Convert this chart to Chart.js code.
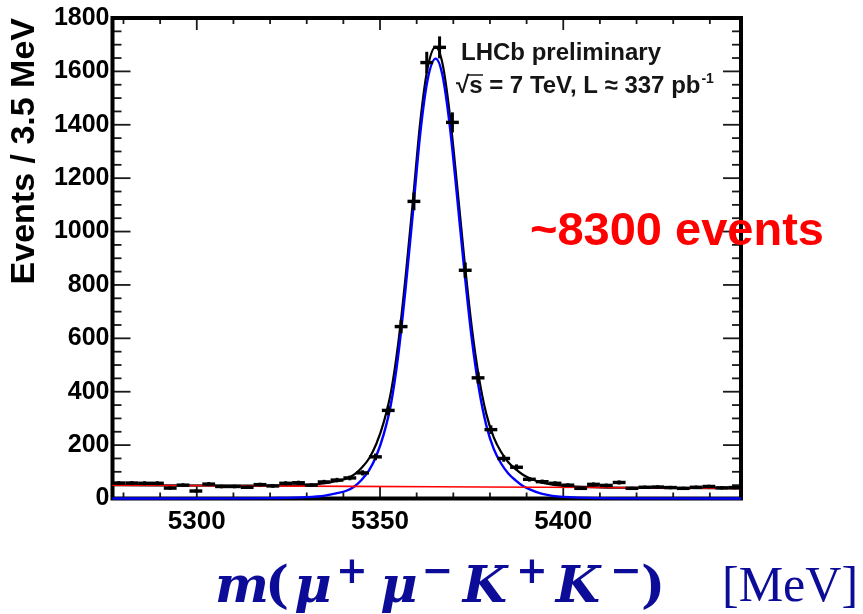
<!DOCTYPE html>
<html>
<head>
<meta charset="utf-8">
<title>m(μ+μ−K+K−) mass spectrum</title>
<script src="https://cdn.jsdelivr.net/npm/chart.js@4.4.1/dist/chart.umd.min.js"></script>
<style>
  html, body { margin: 0; padding: 0; background: #ffffff; }
  #box { position: relative; width: 863px; height: 614px; }
</style>
</head>
<body>
<div id="box"><canvas id="massPlot" width="863" height="614"></canvas></div>
<script>
// Mass window and binning (MeV)
const massRange = [5277, 5448.5];
const binWidth = 3.5;

// Histogram bin centres (MeV)
const binCenters = [
  5278.75, 5282.25, 5285.75, 5289.25, 5292.75, 5296.25, 5299.75, 5303.25, 5306.75, 5310.25,
  5313.75, 5317.25, 5320.75, 5324.25, 5327.75, 5331.25, 5334.75, 5338.25, 5341.75, 5345.25,
  5348.75, 5352.25, 5355.75, 5359.25, 5362.75, 5366.25, 5369.75, 5373.25, 5376.75, 5380.25,
  5383.75, 5387.25, 5390.75, 5394.25, 5397.75, 5401.25, 5404.75, 5408.25, 5411.75, 5415.25,
  5418.75, 5422.25, 5425.75, 5429.25, 5432.75, 5436.25, 5439.75, 5443.25, 5446.75
];

// Candidates per 3.5 MeV bin
const binCounts = [
  58, 58, 57, 57, 39, 50, 28, 54, 45, 45,
  42, 52, 47, 57, 59, 50, 62, 69, 77, 96,
  156, 330, 644, 1113, 1633, 1690, 1409, 855, 452, 258,
  150, 117, 72, 63, 57, 50, 38, 53, 49, 60,
  38, 42, 43, 41, 38, 42, 45, 40, 41
];

// Fit components sampled along the mass axis
const fitMass = [
  5277, 5310, 5320, 5330, 5335, 5338, 5341, 5343, 5345, 5347,
  5349, 5351, 5353, 5355, 5357, 5359, 5361, 5363, 5365.2, 5367,
  5369, 5371, 5373, 5375, 5377, 5379, 5381, 5383, 5385, 5387,
  5389, 5391, 5394, 5397, 5400, 5410, 5425, 5448.5
];
const fitTotal = [
  50, 48, 48.5, 51, 57, 65, 75, 90, 115, 150,
  205, 285, 400, 585, 834, 1119, 1414, 1614, 1692, 1632,
  1444, 1178, 898, 646, 453, 317, 230, 175, 136, 110,
  89, 75, 60, 52, 47, 42, 40, 38
];
const fitSignal = [
  0, 0.5, 1.5, 5, 11, 19, 30, 45, 70, 105,
  160, 240, 355, 540, 790, 1075, 1370, 1570, 1648, 1588,
  1400, 1135, 855, 603, 410, 274, 187, 132, 94, 68,
  47, 33, 18, 10, 6, 1.5, 0.3, 0
];
const bkgMass = [5277, 5320, 5365, 5410, 5448.5];
const fitBackground = [50, 47, 44, 41, 38];

// Axis ticks
const xLabelTicks = [5300, 5350, 5400];
const xMinorTicks = [5280, 5290, 5300, 5310, 5320, 5330, 5340, 5350, 5360, 5370,
                     5380, 5390, 5400, 5410, 5420, 5430, 5440];
const yLabelTicks = [0, 200, 400, 600, 800, 1000, 1200, 1400, 1600, 1800];
const yMinorStep = 50;

const SANS = "'Liberation Sans', Arial, Helvetica, sans-serif";
const SERIF = "'Liberation Serif', 'Times New Roman', serif";
const MATH = "'DejaVu Serif', 'Liberation Serif', serif";
const TITLE_BLUE = '#0c0c98';

const pts = (xs, ys) => xs.map((v, i) => ({ x: v, y: ys[i] }));

// Frame with inward ticks on all four sides
const frameTicks = {
  id: 'frameTicks',
  beforeDatasetsDraw(chart) {
    const { ctx, chartArea: a, scales: { x, y } } = chart;
    ctx.save();
    ctx.strokeStyle = '#1a1a1a';
    ctx.lineWidth = 1.8;
    const seg = (x1, y1, x2, y2) => { ctx.beginPath(); ctx.moveTo(x1, y1); ctx.lineTo(x2, y2); ctx.stroke(); };
    xMinorTicks.forEach(v => {
      const px = x.getPixelForValue(v);
      const len = xLabelTicks.includes(v) ? 12 : 6;
      seg(px, a.bottom, px, a.bottom - len);
      seg(px, a.top, px, a.top + len);
    });
    for (let v = 0; v <= 1800; v += yMinorStep) {
      const py = y.getPixelForValue(v);
      const len = yLabelTicks.includes(v) ? 18 : 9;
      seg(a.left, py, a.left + len, py);
      seg(a.right, py, a.right - len, py);
    }
    ctx.strokeStyle = '#000';
    ctx.lineWidth = 4;
    ctx.strokeRect(a.left, a.top, a.right - a.left, a.bottom - a.top);
    ctx.restore();
  }
};

// Vertical Poisson error bars on the histogram points
const errorBars = {
  id: 'errorBars',
  afterDatasetsDraw(chart) {
    const { ctx, scales: { x, y } } = chart;
    ctx.save();
    ctx.strokeStyle = '#000';
    ctx.lineWidth = 3;
    binCenters.forEach((m, i) => {
      const n = binCounts[i];
      const e = Math.sqrt(n);
      const px = x.getPixelForValue(m);
      ctx.beginPath();
      ctx.moveTo(px, y.getPixelForValue(n - e));
      ctx.lineTo(px, y.getPixelForValue(n + e));
      ctx.stroke();
    });
    ctx.restore();
  }
};

// Captions: experiment label, yield note and the mass-axis title
const captions = {
  id: 'captions',
  afterDraw(chart) {
    const ctx = chart.ctx;
    ctx.save();
    ctx.textAlign = 'left';
    ctx.textBaseline = 'alphabetic';

    // LHCb label
    ctx.fillStyle = '#151515';
    ctx.font = `bold 24px ${SANS}`;
    ctx.fillText('LHCb preliminary', 461, 60);
    const line2 = '\u221As = 7 TeV, L \u2248 337 pb';
    const x0 = 456, y0 = 92.5;
    ctx.fillText(line2, x0, y0);
    const wRoot = ctx.measureText('\u221A').width;
    const wRootS = ctx.measureText('\u221As').width;
    const wLine = ctx.measureText(line2).width;
    ctx.strokeStyle = '#151515';
    ctx.lineWidth = 1.5;
    ctx.beginPath();
    ctx.moveTo(x0 + wRoot - 1.5, y0 - 17.5);
    ctx.lineTo(x0 + wRootS + 0.5, y0 - 17.5);
    ctx.stroke();
    ctx.font = `bold 14px ${SANS}`;
    ctx.fillText('-1', x0 + wLine + 1, y0 - 10);

    // Yield note
    ctx.fillStyle = '#ff0000';
    ctx.font = `bold 47px ${SANS}`;
    ctx.fillText('~8300 events', 530, 245);

    // Mass-axis title
    ctx.fillStyle = TITLE_BLUE;
    ctx.textAlign = 'center';
    const base = 602;
    const italic = `italic bold 51px ${MATH}`;
    const upright = `bold 51px ${MATH}`;
    const sup = `bold 38px ${MATH}`;
    const supBase = 583;
    const glyphs = [
      ['m', 242, base, italic],
      ['(', 277, base, upright],
      ['\u03BC', 313, base, italic],
      ['+', 352, supBase, sup],
      ['\u03BC', 399, base, italic],
      ['\u2212', 437.5, supBase, sup],
      ['K', 485, base, italic],
      ['+', 532, supBase, sup],
      ['K', 578, base, italic],
      ['\u2212', 626, supBase, sup],
      [')', 653, base, upright]
    ];
    glyphs.forEach(([t, gx, gy, f]) => { ctx.font = f; ctx.fillText(t, gx, gy); });
    ctx.textAlign = 'left';
    ctx.font = `50px ${SERIF}`;
    ctx.fillText('[MeV]', 722, 601);
    ctx.restore();
  }
};

new Chart(document.getElementById('massPlot'), {
  type: 'line',
  data: {
    datasets: [
      {
        label: 'Data',
        data: pts(binCenters, binCounts),
        showLine: false,
        pointStyle: 'line',
        pointRadius: (c) => {
          const s = c.chart.scales.x;
          return Math.abs(s.getPixelForValue(binCenters[0] + binWidth / 2) - s.getPixelForValue(binCenters[0]));
        },
        pointBorderColor: '#000',
        pointBackgroundColor: '#000',
        pointBorderWidth: 3.4,
        order: 0,
        clip: false
      },
      {
        label: 'Background',
        data: pts(bkgMass, fitBackground),
        borderColor: '#ff0000',
        borderWidth: 1.6,
        pointRadius: 0,
        cubicInterpolationMode: 'monotone',
        order: 1,
        clip: false
      },
      {
        label: 'Signal',
        data: pts(fitMass, fitSignal),
        borderColor: '#0000ff',
        borderWidth: 2.4,
        pointRadius: 0,
        cubicInterpolationMode: 'monotone',
        order: 2,
        clip: false
      },
      {
        label: 'Total',
        data: pts(fitMass, fitTotal),
        borderColor: '#000000',
        borderWidth: 2.2,
        pointRadius: 0,
        cubicInterpolationMode: 'monotone',
        order: 3,
        clip: false
      }
    ]
  },
  options: {
    responsive: false,
    devicePixelRatio: 1,
    animation: false,
    events: [],
    layout: { padding: { left: 0, top: 16, right: 122, bottom: 0 } },
    plugins: { legend: { display: false }, tooltip: { enabled: false } },
    scales: {
      x: {
        type: 'linear',
        min: massRange[0],
        max: massRange[1],
        grid: { display: false, drawTicks: false },
        border: { display: false },
        afterBuildTicks: (s) => { s.ticks = xLabelTicks.map(v => ({ value: v })); },
        afterFit: (s) => { s.height = 115.5; },
        ticks: {
          color: '#000',
          padding: 8,
          maxRotation: 0,
          font: { family: SANS, size: 26, weight: 'bold' },
          callback: (v) => String(v)
        }
      },
      y: {
        type: 'linear',
        min: 0,
        max: 1800,
        grid: { display: false, drawTicks: false },
        border: { display: false },
        afterBuildTicks: (s) => { s.ticks = yLabelTicks.map(v => ({ value: v })); },
        afterFit: (s) => { s.width = 112.5; },
        ticks: {
          color: '#000',
          padding: 3,
          font: { family: SANS, size: 25, weight: 'bold' },
          callback: (v) => String(v)
        },
        title: {
          display: true,
          text: 'Events / 3.5 MeV',
          align: 'end',
          color: '#000',
          padding: { top: 8, bottom: 0 },
          font: { family: SANS, size: 34, weight: 'bold', lineHeight: 1 }
        }
      }
    }
  },
  plugins: [frameTicks, errorBars, captions]
});
</script>
</body>
</html>
